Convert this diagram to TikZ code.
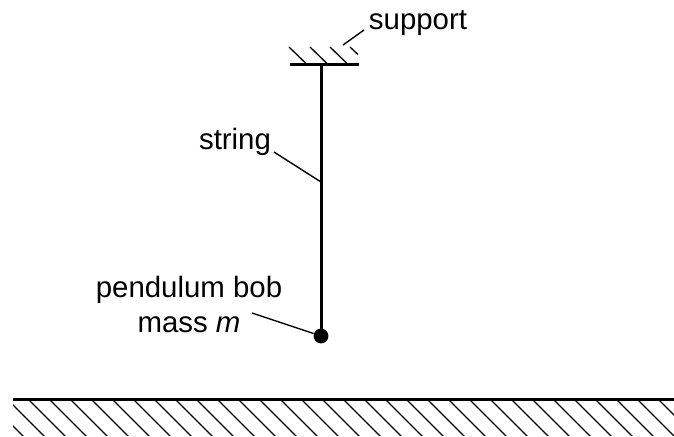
\documentclass[tikz,border=0pt]{standalone}
\usepackage{fontspec}
\setmainfont{Liberation Sans}
\tikzset{
	label/.style={inner sep=0pt, font=\fontsize{14.7}{17.5}\selectfont},
	thickline/.style={line width=1.5pt},
	leader/.style={line width=0.7pt},
	hatch/.style={line width=0.65pt},
	bob/.style={circle, fill=black, inner sep=0pt, minimum size=7.4pt}
}
\begin{document}
\begin{tikzpicture}[x=0.5pt, y=-0.5pt]
	\useasboundingbox (0,0) rectangle (674,436);

	% Draw the support
	\coordinate (supleft) at (290,64);
	\coordinate (supright) at (359,64);
	\coordinate (suptop) at (321,64);
	\draw[thickline] (supleft) -- (supright);
	\foreach \x in {289,310,330} {
		\draw[hatch] (\x,47) -- ++(17,16.5);
	}
	\draw[hatch] (350,47) -- (358,54.5);

	% Draw the string and the bob
	\node[bob] (massbob) at (321,336) {};
	\draw[thickline] (suptop) -- (massbob.center);

	% Draw the labels with their leaders
	\node[label, anchor=base] (suplabel) at (418,29) {support};
	\coordinate (supstart) at (364,30);
	\coordinate (supend) at (343,45);
	\draw[leader] (supstart) -- (supend);

	\node[label, anchor=base] (strlabel) at (235,149) {string};
	\coordinate (strstart) at (274,152);
	\coordinate (strend) at (321,182);
	\draw[leader] (strstart) -- (strend);

	\node[label, align=center] (boblabel) at (189,304) {pendulum bob\\mass \textit{m}};
	\coordinate (bobstart) at (252,313);
	\draw[leader] (bobstart) -- (massbob);

	% Draw the ground
	\coordinate (gndleft) at (13,399);
	\coordinate (gndright) at (674,399);
	\begin{scope}
		\clip (13,399) rectangle (674,435);
		\foreach \x in {-14,7,...,680} {
			\draw[hatch] (\x,399) -- ++(40,40);
		}
	\end{scope}
	\draw[thickline] (gndleft) -- (gndright);
\end{tikzpicture}
\end{document}
